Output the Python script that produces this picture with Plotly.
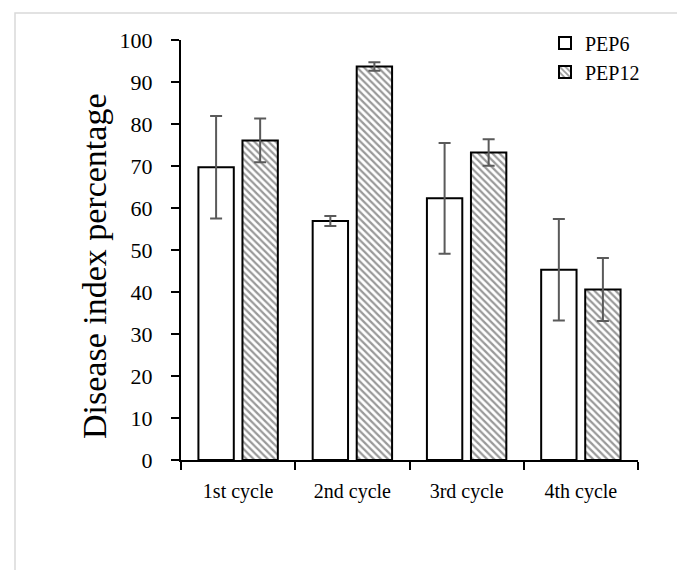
import plotly.graph_objects as go

categories = ["1st cycle", "2nd cycle", "3rd cycle", "4th cycle"]
pep6 = [69.7, 56.9, 62.3, 45.3]
pep6_err = [12.2, 1.2, 13.2, 12.1]
pep12 = [76.1, 93.7, 73.2, 40.6]
pep12_err = [5.2, 1.0, 3.15, 7.5]
y_ticks = [0, 10, 20, 30, 40, 50, 60, 70, 80, 90, 100]

FONT = "Liberation Serif"

L, R, T, B = 173, 55, 32, 118
PW = 685 - L - R
PH = 570 - T - B

fig = go.Figure()
fig.add_trace(go.Bar(
    name="PEP6", x=categories, y=pep6,
    error_y=dict(type="data", array=pep6_err, color="#5a5a5a", thickness=2, width=6),
    marker=dict(color="white", line=dict(color="black", width=2)),
))
fig.add_trace(go.Bar(
    name="PEP12", x=categories, y=pep12,
    error_y=dict(type="data", array=pep12_err, color="#5a5a5a", thickness=2, width=6),
    marker=dict(color="white", line=dict(color="black", width=2),
                pattern=dict(shape="\\", fgcolor="#333333", bgcolor="white",
                             size=5, solidity=0.45)),
))

fig.update_layout(
    width=685, height=570,
    margin=dict(l=L, r=R, t=T, b=B),
    paper_bgcolor="white", plot_bgcolor="white",
    barmode="group", bargap=0.229, bargroupgap=0.197,
    font=dict(family=FONT, color="black", size=20),
    showlegend=True,
    legend=dict(x=(537 - L) / PW, y=(570 - B - 15.6) / PH, xanchor="left", yanchor="top",
                bgcolor="rgba(0,0,0,0)", font=dict(size=20),
                itemwidth=30, tracegroupgap=0),
    xaxis=dict(showline=True, linecolor="black", linewidth=2,
               ticks="outside", tickson="boundaries", ticklen=8,
               tickcolor="black", tickwidth=2, ticklabelstandoff=12,
               tickfont=dict(size=20), showgrid=False),
    yaxis=dict(range=[0, 100], tickvals=y_ticks, showline=True,
               linecolor="black", linewidth=2, ticks="outside", ticklen=8,
               tickcolor="black", tickwidth=2, showgrid=False, zeroline=False,
               ticklabelstandoff=14, tickfont=dict(size=22)),
    annotations=[dict(text="Disease index percentage", textangle=-90,
                      xref="paper", yref="paper",
                      x=(86 - L) / PW, y=(570 - B - 258) / PH,
                      xanchor="center", yanchor="middle", showarrow=False,
                      font=dict(size=34, family=FONT, color="black"))],
    shapes=[dict(type="rect", xref="paper", yref="paper",
                 x0=(7 - L) / PW, x1=(700 - L) / PW,
                 y0=(570 - B - 600) / PH, y1=(570 - B - 5) / PH,
                 line=dict(color="#d9d9d9", width=1.5), layer="below")],
)

fig.write_html("out.html")
